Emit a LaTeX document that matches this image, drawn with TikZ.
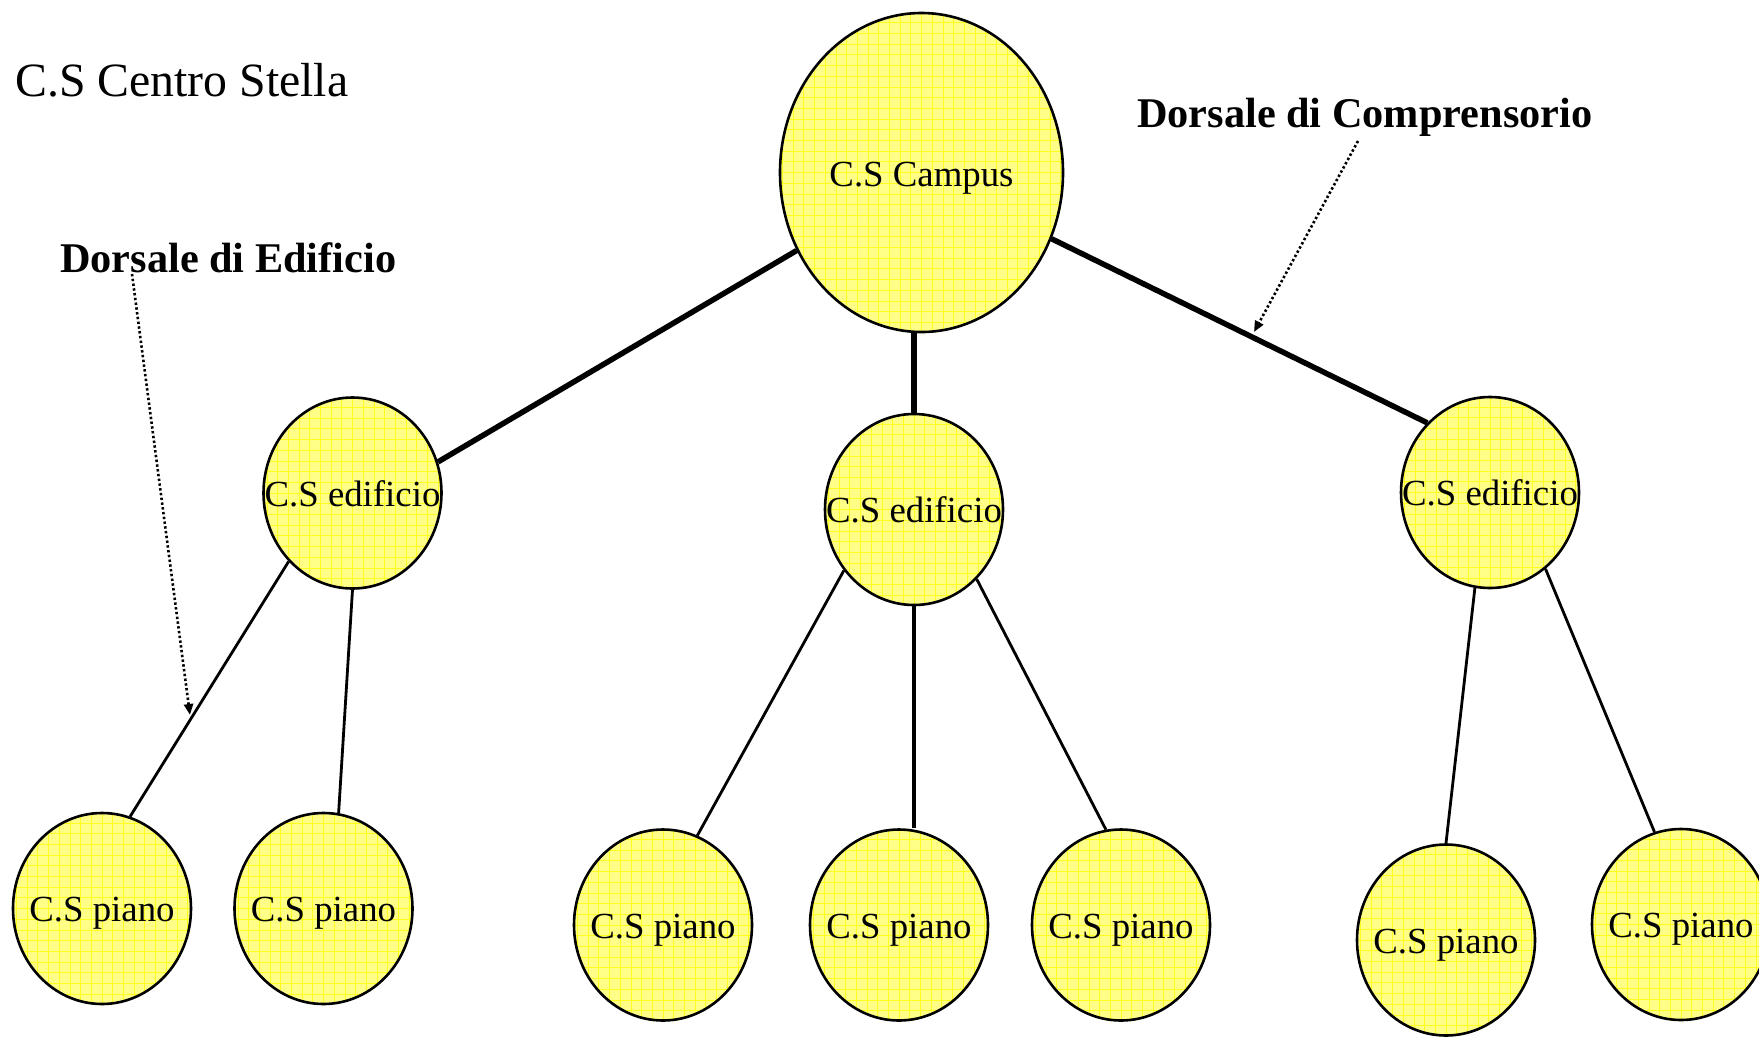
\documentclass[tikz,border=0pt]{standalone}
\usepackage{fontspec}
\setmainfont{Liberation Serif}
\usetikzlibrary{shapes.geometric,arrows.meta,calc}
\definecolor{csfill}{RGB}{255,255,136}
\definecolor{csgrid}{RGB}{255,255,30}
\begin{document}
\begin{tikzpicture}[x=1pt,y=-1pt,
  csnode/.style={ellipse, draw=black, line width=2.6pt, fill=csfill, inner sep=0pt,
    path picture={\draw[csgrid, line width=0.8pt]
      (path picture bounding box.south west) grid[step=10.7pt]
      (path picture bounding box.north east);}},
  cscampus/.style={csnode, minimum width=283pt, minimum height=319pt},
  csround/.style={csnode, minimum width=178pt, minimum height=191pt},
  cstext/.style={anchor=base, inner sep=0pt, font=\fontsize{36.8}{40}\selectfont},
  headline/.style={anchor=base west, inner sep=0pt},
  trunk/.style={line width=5.5pt},
  branch/.style={line width=2.8pt},
  dorsalarrow/.style={line width=2.6pt, dash pattern=on 2.4pt off 2.4pt,
    -{Triangle[length=11pt,width=9pt]}}
]
% page
\fill[white] (0,0) rectangle (1759,1037);
\useasboundingbox (0,0) rectangle (1759,1037);

% star centres
\node[cscampus] (C0) at (921.5,172.5) {};
\node[csround] (E1) at (352.5,493) {};
\node[csround] (E2) at (914,509.5) {};
\node[csround] (E3) at (1490,492.5) {};
\node[csround] (P1) at (102,908.5) {};
\node[csround] (P2) at (323.5,908.5) {};
\node[csround] (P3) at (663,925) {};
\node[csround] (P4) at (899,925) {};
\node[csround] (P5) at (1121,925) {};
\node[csround] (P6) at (1446,940) {};
\node[csround] (P7) at (1681,924.5) {};

% labels inside the circles
\node[cstext] at ($(C0)+(0,14)$) {C.S Campus};
\node[cstext] at ($(E1)+(0,13)$) {C.S edificio};
\node[cstext] at ($(E2)+(0,13)$) {C.S edificio};
\node[cstext] at ($(E3)+(0,13)$) {C.S edificio};
\node[cstext] at ($(P1)+(0,13)$) {C.S piano};
\node[cstext] at ($(P2)+(0,13)$) {C.S piano};
\node[cstext] at ($(P3)+(0,13)$) {C.S piano};
\node[cstext] at ($(P4)+(0,13)$) {C.S piano};
\node[cstext] at ($(P5)+(0,13)$) {C.S piano};
\node[cstext] at ($(P6)+(0,13)$) {C.S piano};
\node[cstext] at ($(P7)+(0,13)$) {C.S piano};

% campus backbone
\draw[trunk] (C0.212.7) -- (E1.20.2);
\draw[trunk] (E2.north |- C0.south) -- (E2.north);
\draw[trunk] (C0.333) -- (E3.132.5);

% building backbones
\draw[branch] (E1.227.5) -- (P1.73.3);
\draw[branch] (E1.270.5) -- (P2.81.6);
\draw[branch] (E2.221.1) -- (P3.69.7);
\draw[branch, line width=3.3pt] (E2.south) -- (E2.south |- P4.north);
\draw[branch] (E2.312.9) -- (P5.99.1);
\draw[branch] (E3.261.8) -- (P6.90);
\draw[branch] (E3.306.1) -- (P7.106.3);

% titles
\node[headline, font=\fontsize{47.8}{50}\selectfont] (legend) at (15,96) {C.S Centro Stella};
\node[headline, font=\bfseries\fontsize{42.3}{46}\selectfont] (lblE) at (60,272) {Dorsale di Edificio};
\node[headline, font=\bfseries\fontsize{42.3}{46}\selectfont] (lblC) at (1137,127) {Dorsale di Comprensorio};

% pointers from the titles to the backbones
\coordinate (fromE) at (132,274);
\coordinate (toE) at (190,715);
\coordinate (fromC) at (1358,141);
\coordinate (toC) at (1254,332);
\draw[dorsalarrow] (fromE) -- (toE);
\draw[dorsalarrow] (fromC) -- (toC);
\end{tikzpicture}
\end{document}
